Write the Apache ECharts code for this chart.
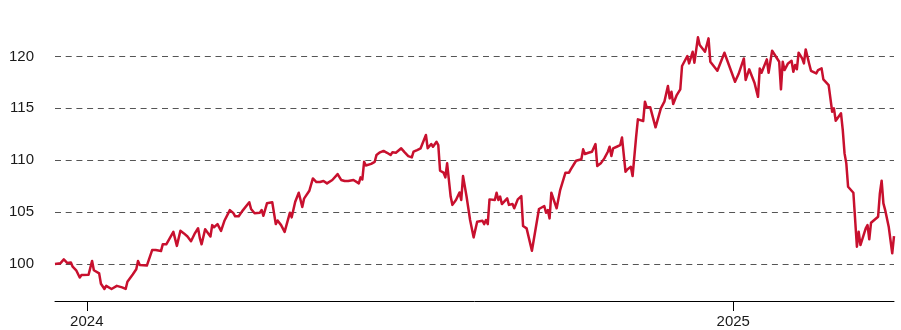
<!DOCTYPE html>
<html>
<head>
<meta charset="utf-8">
<script src="https://cdn.jsdelivr.net/npm/echarts@6/dist/echarts.min.js"></script>
<style>
  html, body { margin: 0; padding: 0; background: #fff; }
  #chart { width: 901px; height: 330px; }
</style>
</head>
<body>
<div id="chart"></div>
<script>
// Index level, base 100
const dates = [
  '2023-12-14','2023-12-17','2023-12-19','2023-12-21','2023-12-23','2023-12-24','2023-12-26','2023-12-28','2023-12-29',
  '2024-01-02','2024-01-04','2024-01-05','2024-01-08','2024-01-09','2024-01-10','2024-01-11','2024-01-12','2024-01-15',
  '2024-01-18','2024-01-21','2024-01-23','2024-01-24','2024-01-27','2024-01-29','2024-01-30','2024-01-31',
  '2024-02-04','2024-02-05','2024-02-07','2024-02-09','2024-02-12','2024-02-13','2024-02-14','2024-02-15','2024-02-17',
  '2024-02-19','2024-02-21','2024-02-23','2024-02-25','2024-02-27','2024-02-28','2024-02-29',
  '2024-03-02','2024-03-04','2024-03-05','2024-03-06','2024-03-08','2024-03-11','2024-03-12','2024-03-13','2024-03-15',
  '2024-03-17','2024-03-19','2024-03-22','2024-03-24','2024-03-25','2024-03-27','2024-03-29',
  '2024-04-02','2024-04-03','2024-04-05','2024-04-08','2024-04-09','2024-04-10','2024-04-12','2024-04-15','2024-04-17',
  '2024-04-18','2024-04-20','2024-04-22','2024-04-25','2024-04-26','2024-04-28','2024-04-30',
  '2024-05-02','2024-05-03','2024-05-06','2024-05-08','2024-05-10','2024-05-12','2024-05-14','2024-05-16','2024-05-19',
  '2024-05-22','2024-05-24','2024-05-26','2024-05-28','2024-05-31',
  '2024-06-01','2024-06-03','2024-06-04','2024-06-05','2024-06-06','2024-06-07','2024-06-10','2024-06-12','2024-06-13',
  '2024-06-15','2024-06-17','2024-06-19','2024-06-20','2024-06-21','2024-06-22','2024-06-24','2024-06-25','2024-06-27',
  '2024-06-29',
  '2024-07-01','2024-07-03','2024-07-04','2024-07-06','2024-07-08','2024-07-09','2024-07-11','2024-07-12','2024-07-14',
  '2024-07-15','2024-07-17','2024-07-18','2024-07-19','2024-07-21','2024-07-22','2024-07-23','2024-07-25','2024-07-26',
  '2024-07-28','2024-07-30','2024-07-31',
  '2024-08-01','2024-08-03','2024-08-05','2024-08-07','2024-08-08','2024-08-09','2024-08-12','2024-08-13','2024-08-14',
  '2024-08-15','2024-08-16','2024-08-19','2024-08-20','2024-08-21','2024-08-22','2024-08-23','2024-08-26','2024-08-27',
  '2024-08-29','2024-08-30',
  '2024-09-01','2024-09-03','2024-09-04','2024-09-06','2024-09-09','2024-09-13','2024-09-16','2024-09-17','2024-09-18',
  '2024-09-19','2024-09-20','2024-09-23','2024-09-25','2024-09-26','2024-09-28','2024-09-30',
  '2024-10-01','2024-10-02','2024-10-04','2024-10-05','2024-10-07','2024-10-08','2024-10-09','2024-10-11','2024-10-13',
  '2024-10-15','2024-10-16','2024-10-18','2024-10-20','2024-10-22','2024-10-23','2024-10-24','2024-10-25','2024-10-27',
  '2024-10-29','2024-10-30',
  '2024-11-01','2024-11-02','2024-11-04','2024-11-05','2024-11-07','2024-11-08','2024-11-11','2024-11-12','2024-11-13',
  '2024-11-15','2024-11-18','2024-11-21','2024-11-23','2024-11-25','2024-11-26','2024-11-27','2024-11-28','2024-11-30',
  '2024-12-02','2024-12-03','2024-12-04','2024-12-06','2024-12-07','2024-12-09','2024-12-10','2024-12-12','2024-12-13',
  '2024-12-16','2024-12-18','2024-12-19','2024-12-23','2024-12-27',
  '2025-01-02','2025-01-04','2025-01-07','2025-01-08','2025-01-10','2025-01-13','2025-01-14','2025-01-15','2025-01-16',
  '2025-01-17','2025-01-20','2025-01-21','2025-01-23','2025-01-24','2025-01-27','2025-01-28','2025-01-29','2025-01-30',
  '2025-02-01','2025-02-03','2025-02-04','2025-02-05','2025-02-06','2025-02-07','2025-02-09','2025-02-10','2025-02-11',
  '2025-02-13','2025-02-14','2025-02-17','2025-02-18','2025-02-20','2025-02-21','2025-02-24','2025-02-25','2025-02-26',
  '2025-02-27','2025-02-28',
  '2025-03-03','2025-03-04','2025-03-05','2025-03-06','2025-03-07','2025-03-10','2025-03-12','2025-03-13','2025-03-14',
  '2025-03-17','2025-03-18','2025-03-19','2025-03-20','2025-03-24','2025-03-25','2025-03-26','2025-03-27','2025-03-28',
  '2025-03-30','2025-04-01','2025-04-02'
];

const values = [
  100.0,100.07,100.45,100.1,100.15,99.75,99.4,98.7,98.95,
  98.97,100.3,99.4,99.1,98.1,98.0,97.6,97.9,97.6,
  97.9,97.75,97.6,98.3,99.0,99.5,100.3,99.9,
  99.85,99.75,101.35,101.35,101.25,101.9,102.05,101.9,102.5,
  103.1,101.75,103.2,102.95,102.65,102.5,102.2,
  102.9,103.45,102.5,101.9,103.35,102.65,103.75,103.55,103.85,
  103.2,104.2,105.2,104.9,104.6,104.6,105.1,
  105.95,105.3,104.9,104.95,105.2,104.65,105.85,105.95,103.85,
  104.2,103.75,103.1,104.95,104.5,106.0,106.87,
  105.5,106.3,107.06,108.25,107.9,107.9,108.0,107.77,108.1,
  108.67,108.1,108.0,108.0,108.1,
  108.0,107.77,108.35,108.15,109.85,109.5,109.65,109.85,110.5,
  110.76,110.9,110.72,110.9,110.5,110.76,110.72,110.76,111.15,
  110.76,
  110.4,110.28,110.82,110.98,111.15,111.05,112.43,111.15,111.56,
  111.3,111.78,111.46,108.99,108.8,108.35,109.7,106.5,105.7,
  106.17,106.9,106.17,
  108.48,106.5,104.24,102.57,102.38,104.07,104.17,103.85,104.24,
  103.85,106.23,106.17,106.87,106.17,106.5,105.78,106.33,105.7,
  105.78,105.37,
  106.23,106.55,103.66,103.44,101.28,105.3,105.59,104.94,105.2,
  104.4,106.87,105.37,107.13,107.3,108.8,108.8,
  109.12,108.99,109.95,109.95,110.09,111.05,110.6,110.72,110.82,
  111.56,109.44,109.7,110.18,110.82,111.3,110.4,111.15,111.3,
  111.46,112.2,
  108.89,109.12,109.37,108.48,112.26,113.94,113.78,115.64,115.1,
  115.1,113.17,115.0,115.64,117.15,115.96,116.6,115.41,116.28,
  116.83,119.08,119.17,120.04,119.33,120.45,119.4,121.84,121.1,
  120.45,121.74,119.49,118.62,120.36,
  117.56,118.3,119.81,117.73,118.76,117.47,117.4,116.11,118.85,
  118.43,119.72,118.43,120.55,120.36,119.49,116.83,119.49,118.69,
  119.33,119.58,118.52,119.17,118.76,120.36,119.81,119.33,120.68,
  119.27,118.62,118.37,118.69,118.85,117.79,117.24,115.96,114.67,
  115.0,113.8,
  114.52,112.9,110.66,109.7,107.45,106.87,101.67,103.11,101.83,
  103.44,103.76,102.38,103.98,104.56,106.81,108.03,105.85,105.2,
  103.6,101.03,102.7
];

// Year marks along the date axis and value gridlines
const yearTicks = ['2024-01-01', '2025-01-01'];
const valueTicks = [100, 105, 110, 115, 120];

const toTime = d => Date.UTC(+d.slice(0, 4), +d.slice(5, 7) - 1, +d.slice(8, 10));
const seriesData = dates.map((d, i) => [toTime(d), values[i]]);
const yearTickTimes = yearTicks.map(toTime);

const chart = echarts.init(document.getElementById('chart'), null, { renderer: 'canvas' });

chart.setOption({
  animation: false,
  backgroundColor: '#ffffff',
  textStyle: { fontFamily: '"Liberation Sans", Arial, sans-serif' },
  grid: { left: 55, right: 7, top: 25, bottom: 29, containLabel: false },
  xAxis: {
    type: 'value',
    min: toTime(dates[0]),
    max: toTime(dates[dates.length - 1]),
    axisLine: { show: true, lineStyle: { color: '#000', width: 1 } },
    axisTick: { show: true, customValues: yearTickTimes, length: 10, lineStyle: { color: '#000', width: 1 } },
    axisLabel: {
      customValues: yearTickTimes,
      formatter: v => String(new Date(v).getUTCFullYear()),
      color: '#1a1a1a', fontSize: 15, margin: 13,
      fontFamily: '"Liberation Sans", Arial, sans-serif'
    },
    splitLine: { show: false }
  },
  yAxis: {
    type: 'value',
    min: 96.44,
    max: 123.03,
    axisLine: { show: false },
    axisTick: { show: false, customValues: valueTicks },
    axisLabel: {
      customValues: valueTicks,
      color: '#1a1a1a', fontSize: 15, margin: 21,
      fontFamily: '"Liberation Sans", Arial, sans-serif'
    },
    splitLine: { show: true, lineStyle: { color: '#555555', width: 1, type: [6, 4.7] } }
  },
  series: [{
    type: 'line',
    data: seriesData,
    showSymbol: false,
    symbol: 'none',
    lineStyle: { color: '#c8102e', width: 2.5, join: 'round' },
    z: 5
  }]
});
</script>
</body>
</html>
